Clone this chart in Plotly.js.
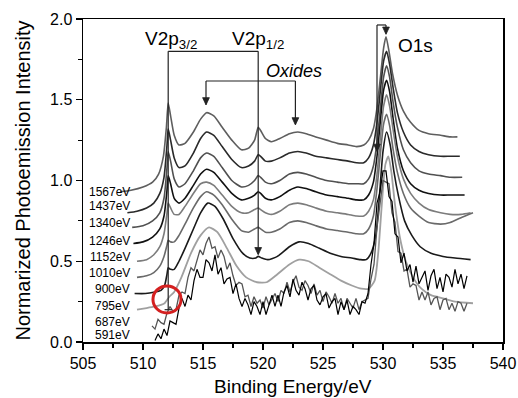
<!DOCTYPE html>
<html><head><meta charset="utf-8">
<script src="https://cdn.plot.ly/plotly-3.0.1.min.js"></script>
<style>html,body{margin:0;padding:0;background:#fff}#c{width:518px;height:398px}</style>
</head><body><div id="c"></div>
<script>
// ---- data (binding energy eV, normalized intensity) ----
const e1567 = [508.1,509,510,510.8,511.3,511.7,511.95,512.1,512.3,512.6,513.0,513.5,514.2,514.8,515.3,515.9,516.6,517.4,518.2,518.8,519.3,519.6,519.8,520.2,520.7,521.4,522.2,522.9,523.6,524.4,525.3,526.2,527.1,527.8,528.4,528.8,529.2,529.5,529.8,530.05,530.25,530.5,530.8,531.2,531.7,532.3,533.0,533.8,534.8,535.6,536.2];
const i1567 = [0.93,0.94,0.96,0.99,1.04,1.15,1.33,1.48,1.40,1.28,1.22,1.23,1.30,1.38,1.42,1.40,1.33,1.25,1.19,1.20,1.25,1.33,1.31,1.26,1.24,1.26,1.29,1.30,1.29,1.27,1.25,1.23,1.22,1.21,1.22,1.25,1.32,1.45,1.65,1.82,1.89,1.80,1.66,1.53,1.43,1.36,1.31,1.29,1.28,1.27,1.27];

const e1437 = [508.7,509.5,510.3,510.9,511.4,511.75,512.0,512.1,512.3,512.6,513.0,513.5,514.2,514.8,515.3,515.9,516.6,517.4,518.2,518.8,519.3,519.6,519.8,520.2,520.7,521.4,522.2,522.9,523.6,524.4,525.3,526.2,527.1,527.8,528.4,528.8,529.2,529.5,529.8,530.05,530.3,530.55,530.85,531.2,531.7,532.3,533.0,533.8,534.8,535.6,536.4];
const i1437 = [0.80,0.81,0.83,0.86,0.92,1.02,1.22,1.32,1.25,1.14,1.08,1.09,1.17,1.26,1.30,1.28,1.21,1.13,1.08,1.09,1.12,1.16,1.15,1.12,1.12,1.14,1.17,1.18,1.17,1.15,1.14,1.13,1.12,1.11,1.11,1.14,1.22,1.36,1.57,1.74,1.80,1.72,1.57,1.42,1.30,1.22,1.18,1.16,1.15,1.15,1.15];

const e1340 = [509.1,510,510.8,511.4,511.75,512.0,512.1,512.3,512.6,513.0,513.5,514.2,514.8,515.3,515.9,516.6,517.4,518.2,518.8,519.3,519.6,519.8,520.2,520.7,521.4,522.2,522.9,523.6,524.4,525.3,526.2,527.1,527.8,528.4,528.8,529.2,529.5,529.8,530.05,530.3,530.55,530.85,531.2,531.7,532.3,533.0,533.8,534.8,535.6,536.6];
const i1340 = [0.71,0.72,0.75,0.80,0.89,1.08,1.18,1.12,1.01,0.96,0.98,1.06,1.14,1.17,1.15,1.08,1.00,0.96,0.97,1.00,1.03,1.02,0.99,0.98,1.00,1.04,1.05,1.04,1.02,1.00,0.99,0.98,0.98,0.98,1.01,1.09,1.24,1.46,1.64,1.71,1.64,1.48,1.33,1.19,1.11,1.06,1.04,1.03,1.02,1.02];

const e1246 = [509.2,510,510.8,511.4,511.75,512.0,512.1,512.3,512.6,513.0,513.5,514.2,514.8,515.3,515.9,516.6,517.4,518.2,518.8,519.3,519.6,519.8,520.2,520.7,521.4,522.2,522.9,523.6,524.4,525.3,526.2,527.1,527.8,528.4,528.8,529.2,529.5,529.8,530.05,530.3,530.55,530.85,531.2,531.7,532.3,533.0,533.8,534.8,535.6,536.8];
const i1246 = [0.61,0.62,0.65,0.70,0.78,0.94,1.03,0.98,0.89,0.86,0.89,0.97,1.04,1.07,1.05,0.99,0.92,0.88,0.89,0.91,0.93,0.92,0.89,0.88,0.90,0.94,0.96,0.95,0.93,0.91,0.90,0.89,0.88,0.88,0.91,0.99,1.15,1.38,1.56,1.62,1.55,1.38,1.20,1.06,0.98,0.94,0.92,0.91,0.91,0.91];

const e1152 = [509.5,510.3,510.9,511.4,511.75,512.0,512.1,512.3,512.6,513.0,513.5,514.2,514.8,515.3,515.9,516.6,517.4,518.2,518.8,519.3,519.6,519.8,520.2,520.7,521.4,522.2,522.9,523.6,524.4,525.3,526.2,527.1,527.8,528.4,528.8,529.2,529.5,529.8,530.05,530.3,530.55,530.85,531.2,531.7,532.3,533.0,533.8,534.8,535.6,536.5,537.3];
const i1152 = [0.50,0.51,0.54,0.59,0.67,0.80,0.86,0.83,0.79,0.79,0.84,0.92,0.98,0.99,0.97,0.91,0.84,0.80,0.80,0.82,0.83,0.82,0.80,0.79,0.81,0.85,0.86,0.85,0.83,0.81,0.80,0.79,0.78,0.78,0.81,0.88,1.04,1.28,1.46,1.53,1.46,1.31,1.15,1.01,0.92,0.86,0.82,0.80,0.79,0.79,0.80];

const e1010 = [509.5,510.3,510.9,511.4,511.75,512.0,512.1,512.3,512.6,513.0,513.5,514.2,514.8,515.3,515.9,516.6,517.4,518.2,518.8,519.3,519.6,519.8,520.2,520.7,521.4,522.2,522.9,523.6,524.4,525.3,526.2,527.1,527.8,528.4,528.8,529.2,529.5,529.8,530.05,530.3,530.55,530.85,531.2,531.7,532.3,533.0,533.8,534.8,535.6,536.5,537.5];
const i1010 = [0.40,0.41,0.43,0.47,0.53,0.60,0.63,0.62,0.62,0.66,0.73,0.83,0.90,0.93,0.91,0.85,0.76,0.69,0.68,0.70,0.71,0.70,0.68,0.68,0.70,0.74,0.75,0.74,0.72,0.70,0.69,0.68,0.67,0.67,0.70,0.78,0.95,1.18,1.35,1.41,1.34,1.19,1.05,0.92,0.83,0.78,0.74,0.73,0.74,0.77,0.80];

const e900 = [509.3,510.2,511.0,511.5,511.8,512.0,512.1,512.3,512.6,513.0,513.5,514.2,514.8,515.4,516.0,516.7,517.5,518.3,518.9,519.4,519.6,519.9,520.4,521.2,522.2,523.0,523.8,524.7,525.6,526.5,527.4,528.1,528.6,529.0,529.4,529.7,530.0,530.3,530.6,530.9,531.3,531.8,532.4,533.1,534.0,535.0,536.0,537.3];
const i900 = [0.30,0.30,0.31,0.32,0.35,0.42,0.46,0.45,0.45,0.50,0.58,0.70,0.80,0.86,0.84,0.76,0.64,0.55,0.52,0.52,0.53,0.52,0.51,0.53,0.59,0.62,0.61,0.58,0.55,0.53,0.52,0.51,0.51,0.55,0.66,0.90,1.18,1.30,1.22,1.06,0.90,0.75,0.66,0.59,0.55,0.53,0.52,0.51];

const e795 = [509.5,510.3,511.0,511.5,511.8,512.2,512.6,513.2,514.0,514.8,515.5,516.2,517.0,517.8,518.6,519.5,520.3,521.2,522.2,523.0,523.8,524.7,525.6,526.5,527.4,528.2,528.8,529.3,529.6,529.9,530.2,530.45,530.7,531.0,531.4,531.9,532.5,533.2,534.0,535.0,536.0,537.5];
const i795 = [0.20,0.21,0.22,0.23,0.24,0.28,0.31,0.40,0.55,0.66,0.71,0.68,0.58,0.47,0.40,0.37,0.37,0.42,0.48,0.51,0.50,0.46,0.42,0.38,0.35,0.33,0.33,0.38,0.55,0.85,1.10,1.15,1.05,0.85,0.65,0.50,0.40,0.33,0.29,0.27,0.25,0.24];

const e687 = [510.75,511.0,511.25,511.5,511.75,512.0,512.25,512.5,512.75,513.0,513.25,513.5,513.75,514.0,514.25,514.5,514.75,515.0,515.25,515.5,515.75,516.0,516.25,516.5,516.75,517.0,517.25,517.5,517.75,518.0,518.25,518.5,518.75,519.0,519.25,519.5,519.75,520.0,520.25,520.5,520.75,521.0,521.25,521.5,521.75,522.0,522.25,522.5,522.75,523.0,523.25,523.5,523.75,524.0,524.25,524.5,524.75,525.0,525.25,525.5,525.75,526.0,526.25,526.5,526.75,527.0,527.25,527.5,527.75,528.0,528.25,528.5,528.75,529.0,529.25,529.5,529.75,530.0,530.25,530.5,530.75,531.0,531.25,531.5,531.75,532.0,532.25,532.5,532.75,533.0,533.25,533.5,533.75,534.0,534.25,534.5,534.75,535.0,535.25,535.5,535.75,536.0,536.25,536.5,536.75,537.0];
const i687 = [0.10,0.08,0.14,0.12,0.11,0.18,0.22,0.19,0.20,0.29,0.31,0.30,0.40,0.46,0.44,0.50,0.57,0.54,0.61,0.65,0.58,0.59,0.52,0.57,0.53,0.45,0.49,0.41,0.35,0.37,0.36,0.28,0.29,0.22,0.28,0.24,0.26,0.21,0.28,0.23,0.27,0.30,0.25,0.32,0.30,0.37,0.31,0.37,0.41,0.34,0.32,0.38,0.35,0.30,0.36,0.29,0.32,0.25,0.31,0.28,0.24,0.30,0.24,0.27,0.20,0.27,0.24,0.21,0.27,0.20,0.25,0.26,0.27,0.39,0.48,0.71,0.84,1.00,0.99,0.98,0.80,0.74,0.56,0.55,0.44,0.45,0.34,0.36,0.35,0.26,0.31,0.26,0.31,0.23,0.27,0.28,0.20,0.26,0.27,0.20,0.24,0.19,0.25,0.24,0.19,0.24];

const e591 = [511.0,511.25,511.5,511.75,512.0,512.25,512.5,512.75,513.0,513.25,513.5,513.75,514.0,514.25,514.5,514.75,515.0,515.25,515.5,515.75,516.0,516.25,516.5,516.75,517.0,517.25,517.5,517.75,518.0,518.25,518.5,518.75,519.0,519.25,519.5,519.75,520.0,520.25,520.5,520.75,521.0,521.25,521.5,521.75,522.0,522.25,522.5,522.75,523.0,523.25,523.5,523.75,524.0,524.25,524.5,524.75,525.0,525.25,525.5,525.75,526.0,526.25,526.5,526.75,527.0,527.25,527.5,527.75,528.0,528.25,528.5,528.75,529.0,529.25,529.5,529.75,530.0,530.25,530.5,530.75,531.0,531.25,531.5,531.75,532.0,532.25,532.5,532.75,533.0,533.25,533.5,533.75,534.0,534.25,534.5,534.75,535.0,535.25,535.5,535.75,536.0,536.25,536.5,536.75,537.0];
const i591 = [0.01,0.05,0.02,0.08,0.04,0.13,0.12,0.11,0.21,0.27,0.22,0.29,0.26,0.38,0.45,0.40,0.40,0.51,0.49,0.44,0.54,0.42,0.46,0.36,0.39,0.40,0.30,0.36,0.27,0.22,0.27,0.23,0.17,0.25,0.22,0.17,0.25,0.17,0.23,0.29,0.22,0.29,0.22,0.31,0.35,0.28,0.39,0.32,0.29,0.37,0.33,0.26,0.33,0.35,0.26,0.23,0.28,0.30,0.21,0.25,0.27,0.17,0.25,0.20,0.26,0.17,0.22,0.20,0.17,0.25,0.24,0.30,0.48,0.61,0.86,0.93,1.06,1.06,0.90,0.87,0.67,0.65,0.49,0.55,0.44,0.48,0.37,0.47,0.36,0.40,0.44,0.32,0.41,0.45,0.33,0.40,0.31,0.42,0.40,0.34,0.45,0.36,0.42,0.33,0.41];

const spectrumLabels = ['1567eV','1437eV','1340eV','1246eV','1152eV','1010eV','900eV','795eV','687eV','591eV'];
const xTicks = [505,510,515,520,525,530,535,540];
const yTicks = [0.0,0.5,1.0,1.5,2.0];

// ---- styling ----
const FONT = 'Liberation Sans, Arial, sans-serif';
const series = [
  {x:e1567,y:i1567,c:'#5e5e5e',w:1.6,s:true},
  {x:e1437,y:i1437,c:'#2a2a2a',w:1.6,s:true},
  {x:e1340,y:i1340,c:'#505050',w:1.6,s:true},
  {x:e1246,y:i1246,c:'#111111',w:1.6,s:true},
  {x:e1152,y:i1152,c:'#7c7c7c',w:1.6,s:true},
  {x:e1010,y:i1010,c:'#6a6a6a',w:1.6,s:true},
  {x:e900,y:i900,c:'#1a1a1a',w:1.6,s:true},
  {x:e795,y:i795,c:'#a0a0a0',w:1.8,s:true},
  {x:e687,y:i687,c:'#555555',w:1.3,s:false},
  {x:e591,y:i591,c:'#000000',w:1.2,s:false}
];
const traces = series.map((s,k)=>({
  x:s.x, y:s.y, type:'scatter', mode:'lines', name:spectrumLabels[k],
  line:{color:s.c, width:s.w, shape:s.s?'spline':'linear', smoothing:0.6},
  hoverinfo:'skip'
}));

// positions of the spectrum labels (y, in intensity units) and right edge (eV)
const labelYs = [0.929,0.842,0.737,0.625,0.526,0.427,0.328,0.223,0.124,0.043];
const annotations = spectrumLabels.map((t,k)=>({
  x:509.1, y:labelYs[k], xref:'x', yref:'y', xanchor:'right', yanchor:'middle',
  text:t, showarrow:false, font:{family:FONT, size:12, color:'#000'}
}));
const bigFont = {family:FONT, size:19, color:'#000'};
annotations.push(
  {x:512.3, y:1.87, xref:'x', yref:'y', text:'V2p<sub>3/2</sub>', showarrow:false, font:bigFont},
  {x:519.6, y:1.87, xref:'x', yref:'y', text:'V2p<sub>1/2</sub>', showarrow:false, font:bigFont},
  {x:522.6, y:1.675, xref:'x', yref:'y', text:'<i>Oxides</i>', showarrow:false, font:{family:FONT, size:18, color:'#000'}},
  {x:532.67, y:1.836, xref:'x', yref:'y', text:'O1s', showarrow:false, font:bigFont},
  // x-axis title, placed low near the page edge as in the source
  {x:0.5, y:-0.137, xref:'paper', yref:'paper', xanchor:'center', yanchor:'middle',
   text:'Binding Energy/eV', showarrow:false, font:{family:FONT, size:19, color:'#000'}}
);

// bracket lines and arrow heads
const ln = {color:'#222', width:1.2};
function vline(x, y0, y1){ return {type:'line', xref:'x', yref:'y', x0:x, x1:x, y0:y0, y1:y1, line:ln}; }
function hline(x0, x1, y){ return {type:'line', xref:'x', yref:'y', x0:x0, x1:x1, y0:y, y1:y, line:ln}; }
function head(x, y){
  return {type:'path', xref:'x', yref:'y',
          path:'M '+(x-0.28)+' '+(y+0.045)+' L '+(x+0.28)+' '+(y+0.045)+' L '+x+' '+y+' Z',
          fillcolor:'#222', line:{color:'#222', width:0.8}};
}
const shapes = [
  vline(512.1, 1.80, 0.20), hline(511.8, 512.4, 0.20),
  hline(512.1, 519.6, 1.80),
  vline(519.6, 1.80, 0.545), head(519.6, 0.54),
  hline(515.25, 522.7, 1.616),
  vline(515.25, 1.616, 1.47), head(515.25, 1.468),
  vline(522.7, 1.616, 1.35), head(522.7, 1.344),
  hline(529.5, 530.25, 1.963),
  vline(530.25, 1.963, 1.91), head(530.25, 1.905),
  vline(529.5, 1.963, 1.19), head(529.5, 1.18),
  {type:'circle', xref:'x', yref:'y', x0:510.83, x1:513.17, y0:0.18, y1:0.347, line:{color:'#d42020', width:3}}
];

const layout = {
  width:518, height:398,
  margin:{l:83, r:15, t:19, b:56},
  paper_bgcolor:'#fff', plot_bgcolor:'#fff',
  showlegend:false,
  font:{family:FONT, color:'#000'},
  xaxis:{
    range:[505,540], tickvals:xTicks, ticktext:xTicks.map(String),
    ticks:'outside', ticklen:6, tickwidth:1.4, tickcolor:'#000',
    minor:{dtick:2.5, tick0:505, ticks:'outside', ticklen:4, tickwidth:1.2, tickcolor:'#000'},
    showline:true, linewidth:1.5, linecolor:'#000', mirror:true,
    showgrid:false, zeroline:false,
    tickfont:{family:FONT, size:16, color:'#000'},
    automargin:false
  },
  yaxis:{
    range:[0,2], tickvals:yTicks, ticktext:yTicks.map(v=>v.toFixed(1)),
    ticks:'outside', ticklen:6, tickwidth:1.4, tickcolor:'#000',
    minor:{dtick:0.25, tick0:0, ticks:'outside', ticklen:4, tickwidth:1.2, tickcolor:'#000'},
    showline:true, linewidth:1.5, linecolor:'#000', mirror:true,
    showgrid:false, zeroline:false,
    tickfont:{family:FONT, size:16, color:'#000'},
    title:{text:'Normarized Photoemission Intensity', font:{family:FONT, size:20, color:'#000'}, standoff:14},
    automargin:false
  },
  annotations:annotations,
  shapes:shapes
};
Plotly.newPlot('c', traces, layout, {staticPlot:true, displayModeBar:false});
</script>
</body></html>
